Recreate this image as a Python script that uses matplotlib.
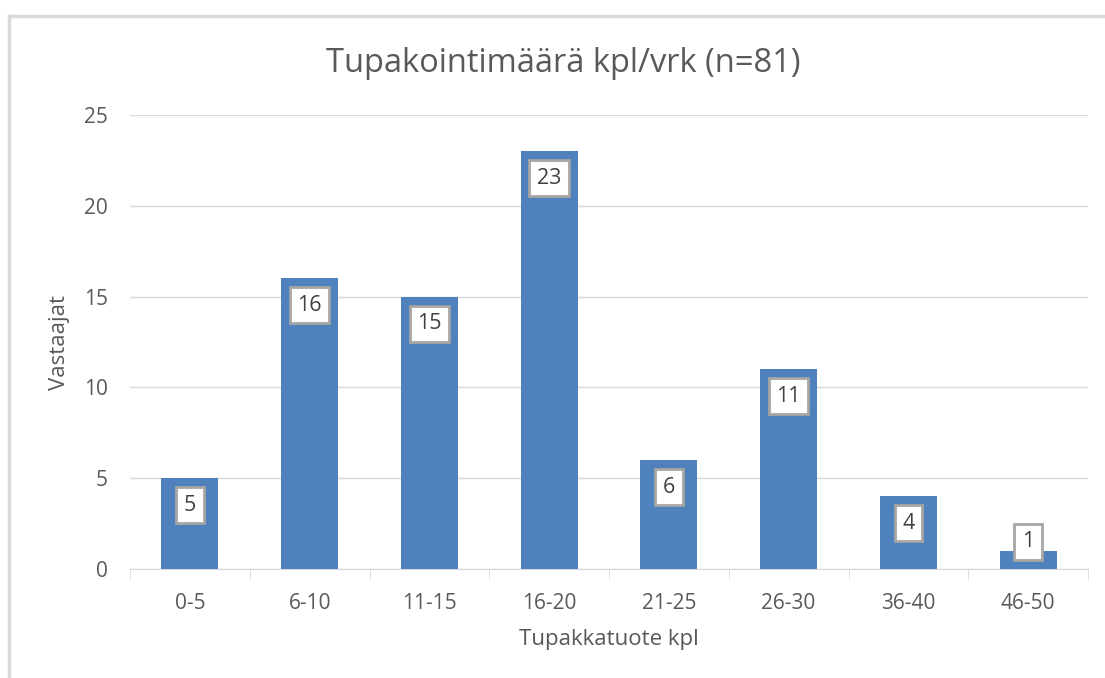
import matplotlib
matplotlib.use("Agg")
import matplotlib.pyplot as plt
from matplotlib.lines import Line2D

categories = ["0-5", "6-10", "11-15", "16-20", "21-25", "26-30", "36-40", "46-50"]
values = [5, 16, 15, 23, 6, 11, 4, 1]
title = "Tupakointimäärä kpl/vrk (n=81)"
xlabel = "Tupakkatuote kpl"
ylabel = "Vastaajat"

plt.rcParams['font.family'] = ['Open Sans', 'DejaVu Sans']
TXT = "#595959"
W, H = 1105, 678
fig = plt.figure(figsize=(W / 100, H / 100), dpi=100)
ax = fig.add_axes([130 / W, 1 - 569 / H, (1088 - 130) / W, (569 - 115) / H])

x = range(len(categories))
bars = ax.bar(x, values, width=0.475, color="#4f81bd", zorder=3)
ax.set_xlim(-0.5, len(categories) - 0.5)
ax.set_ylim(0, 25)
ax.set_yticks([0, 5, 10, 15, 20, 25])
ax.yaxis.grid(True, color="#d9d9d9", linewidth=1, zorder=0)
for s in ["top", "right", "left"]:
    ax.spines[s].set_visible(False)
ax.spines["bottom"].set_color("#d9d9d9")
ax.tick_params(axis="y", length=0, labelsize=15, labelcolor=TXT, pad=16)
ax.set_xticks(list(x))
ax.set_xticklabels(categories)
ax.tick_params(axis="x", length=0, labelsize=15, labelcolor=TXT, pad=17)
ax.set_xticks([i + 0.5 for i in range(-1, len(categories))], minor=True)
ax.tick_params(axis="x", which="minor", length=7, color="#d9d9d9")

ax.set_xlabel(xlabel, fontsize=16, color=TXT, labelpad=11)
ax.set_ylabel(ylabel, fontsize=16, color=TXT, labelpad=10)
fig.text(563 / W, 1 - 64 / H, title, fontsize=23.5, color=TXT, ha="center", va="center")

px_per_unit = (569 - 115) / 25
for i, v in enumerate(values):
    off = -27 if v * px_per_unit > 60 else 9
    ax.annotate(str(v), (i, v), xytext=(0, off * 0.72), textcoords="offset points",
                ha="center", va="center", fontsize=15.5, color="#404040", zorder=5,
                bbox=dict(boxstyle="square,pad=0.35", fc="white", ec="#a6a6a6", lw=2))

fig.add_artist(Line2D([9 / W, 9 / W], [0, 1 - 16 / H], color="#d9d9d9", lw=2.5, transform=fig.transFigure))
fig.add_artist(Line2D([9 / W, 1], [1 - 16 / H, 1 - 16 / H], color="#d9d9d9", lw=2.5, transform=fig.transFigure))

fig.savefig("out.png", dpi=100)
